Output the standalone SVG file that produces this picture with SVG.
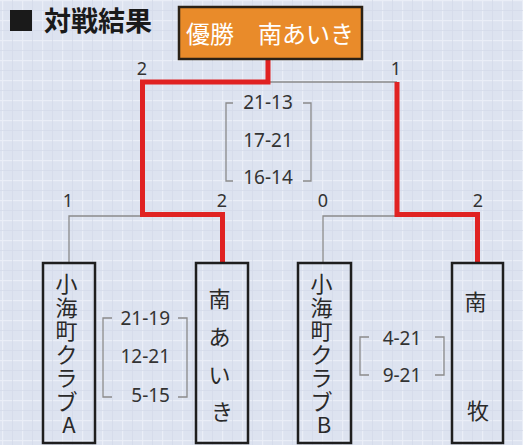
<svg xmlns="http://www.w3.org/2000/svg" width="523" height="445" viewBox="0 0 523 445">
  <defs>
    <pattern id="grid" x="2" y="0" width="20" height="20" patternUnits="userSpaceOnUse">
      <rect width="20" height="20" fill="#dde3f0"/>
      <path d="M0 0.5 H20 M0.5 0 V20" stroke="#eaeef7" stroke-width="1.5" fill="none"/>
      <path d="M0 10.5 H20 M10.5 0 V20" stroke="#d4dbea" stroke-width="0.8" fill="none"/>
    </pattern>
    <style>
      .title { font-family: "Noto Sans CJK JP", "Noto Sans", sans-serif; font-weight: bold; font-size: 27px; fill: #1a1a1a; }
      .champ { font-family: "Noto Sans CJK JP", "Noto Sans", sans-serif; font-size: 24px; fill: #ffffff; }
      .team { font-family: "Noto Sans CJK JP", "Noto Sans", sans-serif; font-size: 22px; fill: #2a2a2a; text-anchor: middle; }
      .score { font-family: "Noto Sans", "Open Sans", sans-serif; font-size: 19px; fill: #333333; }
      .num { font-family: "Noto Sans", "Open Sans", sans-serif; font-size: 18px; fill: #333333; text-anchor: middle; }
      .box { fill: none; stroke: #1e1e1e; stroke-width: 2.5; }
      .win { fill: none; stroke: #e02222; stroke-width: 5; stroke-linejoin: miter; }
      .lose { fill: none; stroke: #8a8a8a; stroke-width: 1.3; }
      .brk { fill: none; stroke: #8a8a8a; stroke-width: 1.3; }
    </style>
  </defs>

  <rect width="523" height="445" fill="url(#grid)"/>

  <g id="title">
    <rect x="10" y="10" width="22" height="21" fill="#1a1a1a"/>
    <text class="title" x="44" y="31">対戦結果</text>
  </g>

  <g id="connectors">
    <path class="lose" d="M268 82 H397"/>
    <path class="lose" d="M69 263 V216 H142"/>
    <path class="lose" d="M323 263 V216 H397"/>
    <path class="win" d="M268 59 V82 H142.5 V214.5 H222.5 V263"/>
    <path class="win" d="M397 82 V214.5 H477.5 V263"/>
  </g>

  <g id="champion">
    <rect x="179" y="7" width="183" height="52" fill="#e98b2a" stroke="#2a2116" stroke-width="2.5"/>
    <text class="champ" x="270" y="42.5" text-anchor="middle">優勝　南あいき</text>
  </g>

  <g id="scores-final">
    <path class="brk" d="M233 103 H226 V181 H233 M303 103 H311 V181 H303"/>
    <text class="score" x="268" y="109" text-anchor="middle">21-13</text>
    <text class="score" x="268" y="147" text-anchor="middle">17-21</text>
    <text class="score" x="268" y="184" text-anchor="middle">16-14</text>
  </g>

  <g id="nums">
    <text class="num" x="142" y="75">2</text>
    <text class="num" x="396" y="75">1</text>
    <text class="num" x="68" y="207">1</text>
    <text class="num" x="222" y="207">2</text>
    <text class="num" x="323" y="207">0</text>
    <text class="num" x="478" y="207">2</text>
  </g>

  <g id="team-kaichoA">
    <rect class="box" x="43" y="263" width="52" height="180"/>
    <text class="team">
      <tspan x="69" y="292">小</tspan>
      <tspan x="69" y="315.5">海</tspan>
      <tspan x="69" y="339">町</tspan>
      <tspan x="69" y="362.5">ク</tspan>
      <tspan x="69" y="386">ラ</tspan>
      <tspan x="69" y="409.5">ブ</tspan>
      <tspan x="69" y="433">A</tspan>
    </text>
  </g>

  <g id="team-minamiawaki">
    <rect class="box" x="196" y="263" width="52" height="180"/>
    <text class="team">
      <tspan x="222" y="307">南</tspan>
      <tspan x="222" y="345">あ</tspan>
      <tspan x="222" y="383">い</tspan>
      <tspan x="222" y="420">き</tspan>
    </text>
  </g>

  <g id="scores-semi1">
    <path class="brk" d="M112 318 H103 V397 H112 M178 318 H187 V397 H178"/>
    <text class="score" x="170" y="325" text-anchor="end">21-19</text>
    <text class="score" x="170" y="363" text-anchor="end">12-21</text>
    <text class="score" x="170" y="402" text-anchor="end">5-15</text>
  </g>

  <g id="team-kaichoB">
    <rect class="box" x="298" y="263" width="53" height="180"/>
    <text class="team">
      <tspan x="324" y="292">小</tspan>
      <tspan x="324" y="315.5">海</tspan>
      <tspan x="324" y="339">町</tspan>
      <tspan x="324" y="362.5">ク</tspan>
      <tspan x="324" y="386">ラ</tspan>
      <tspan x="324" y="409.5">ブ</tspan>
      <tspan x="324" y="433">B</tspan>
    </text>
  </g>

  <g id="scores-semi2">
    <path class="brk" d="M369 337 H360 V375 H369 M435 337 H444 V375 H435"/>
    <text class="score" x="402" y="345" text-anchor="middle">4-21</text>
    <text class="score" x="402" y="382" text-anchor="middle">9-21</text>
  </g>

  <g id="team-minamimaki">
    <rect class="box" x="452" y="263" width="51" height="180"/>
    <text class="team">
      <tspan x="478" y="310">南</tspan>
      <tspan x="478" y="419">牧</tspan>
    </text>
  </g>
</svg>
